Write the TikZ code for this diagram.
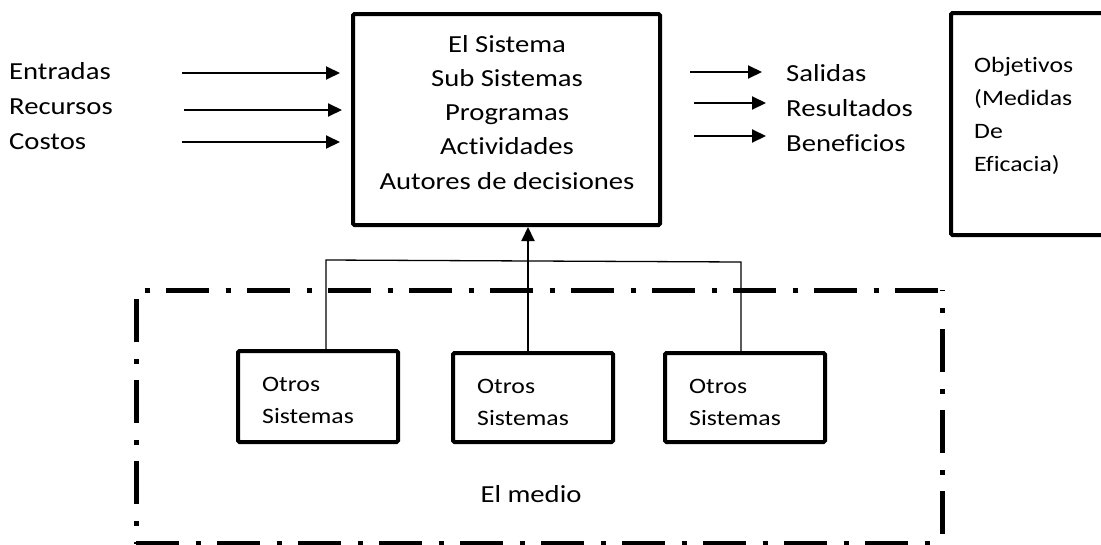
\documentclass[tikz,border=0pt]{standalone}
\usepackage{fontspec}
\setmainfont{Carlito}[FakeStretch=1.17, Ligatures=NoCommon]
\usetikzlibrary{arrows.meta}
\tikzset{
  thickbox/.style={draw, line width=4pt, inner sep=0pt, rounded corners=1.5pt},
  bigtxt/.style={font=\fontsize{24.5}{34}\selectfont, inner sep=0pt},
  smalltxt/.style={font=\fontsize{22}{32}\selectfont, inner sep=0pt},
  flow/.style={line width=2pt, -{Triangle[length=14pt,width=13pt]}},
  link/.style={line width=1.3pt},
  dashdot/.style={line width=5pt, dash pattern=on 43pt off 16.5pt on 5pt off 16.5pt}
}
\begin{document}
\begin{tikzpicture}[x=1pt,y=-1pt]
\path[use as bounding box, clip] (0,0) rectangle (1101,544);
\fill[white] (0,0) rectangle (1101,544);

% main system box
\node[thickbox, minimum width=307pt, minimum height=211pt] (sys) at (506.5,119.5) {};
\node[bigtxt, anchor=base] (s1) at (507,52) {El Sistema};
\node[bigtxt, anchor=base] (s2) at (507,86) {Sub Sistemas};
\node[bigtxt, anchor=base] (s3) at (507,120) {Programas};
\node[bigtxt, anchor=base] (s4) at (507,154) {Actividades};
\node[bigtxt, anchor=base] (s5) at (507,189) {Autores de decisiones};

% inputs
\node[bigtxt, anchor=base west] (in1) at (9,79) {Entradas};
\node[bigtxt, anchor=base west] (in2) at (9,114) {Recursos};
\node[bigtxt, anchor=base west] (in3) at (9,149) {Costos};
\coordinate (a1s) at (182,73);  \coordinate (a1e) at (340,73);
\coordinate (a2s) at (184,110); \coordinate (a2e) at (342,110);
\coordinate (a3s) at (182,142); \coordinate (a3e) at (340,142);
\draw[flow] (a1s) -- (a1e);
\draw[flow] (a2s) -- (a2e);
\draw[flow] (a3s) -- (a3e);

% outputs
\coordinate (b1s) at (690,72);  \coordinate (b1e) at (762,72);
\coordinate (b2s) at (694,103); \coordinate (b2e) at (766,103);
\coordinate (b3s) at (694,136); \coordinate (b3e) at (766,136);
\draw[flow] (b1s) -- (b1e);
\draw[flow] (b2s) -- (b2e);
\draw[flow] (b3s) -- (b3e);
\node[bigtxt, anchor=base west] (out1) at (786,81) {Salidas};
\node[bigtxt, anchor=base west] (out2) at (786,116) {Resultados};
\node[bigtxt, anchor=base west] (out3) at (786,151) {Beneficios};

% objectives box
\node[thickbox, minimum width=170pt, minimum height=222pt] (obj) at (1036,124) {};
\node[smalltxt, anchor=base west] (ob1) at (974,72) {Objetivos};
\node[smalltxt, anchor=base west] (ob2) at (974,105) {(Medidas};
\node[smalltxt, anchor=base west] (ob3) at (974,138) {De};
\node[smalltxt, anchor=base west] (ob4) at (974,171) {Eficacia)};

% environment boundary (dash-dot)
\draw[dashdot, dash phase=51pt] (136,290) -- (942,290);
\draw[dashdot, dash phase=72pt] (136,290) -- (136,544);
\draw[dashdot, dash phase=42pt] (942,290) -- (942,544);
\draw[dashdot, dash phase=0pt] (136,543.5) -- (942,543.5);
\node[bigtxt, anchor=base] (medio) at (531,502) {El medio};

% other systems
\node[thickbox, minimum width=160pt, minimum height=91pt] (o1) at (318,396.5) {};
\node[thickbox, minimum width=160pt, minimum height=89pt] (o2) at (533,397.5) {};
\node[thickbox, minimum width=160pt, minimum height=89pt] (o3) at (745,397.5) {};
\node[smalltxt, anchor=base west] (o1a) at (262,391) {Otros};
\node[smalltxt, anchor=base west] (o1b) at (262,423) {Sistemas};
\node[smalltxt, anchor=base west] (o2a) at (477,393) {Otros};
\node[smalltxt, anchor=base west] (o2b) at (477,425) {Sistemas};
\node[smalltxt, anchor=base west] (o3a) at (689,393) {Otros};
\node[smalltxt, anchor=base west] (o3b) at (689,425) {Sistemas};

% connectors
\coordinate (jl) at (326,260);
\coordinate (jr) at (741,262);
\coordinate (jm) at (528,261);
\draw[link] (o1.north -| jl) -- (jl) -- (jr) -- (o3.north -| jr);
\draw[flow] (o2.north -| jm) -- (sys.south -| jm);
\end{tikzpicture}
\end{document}
